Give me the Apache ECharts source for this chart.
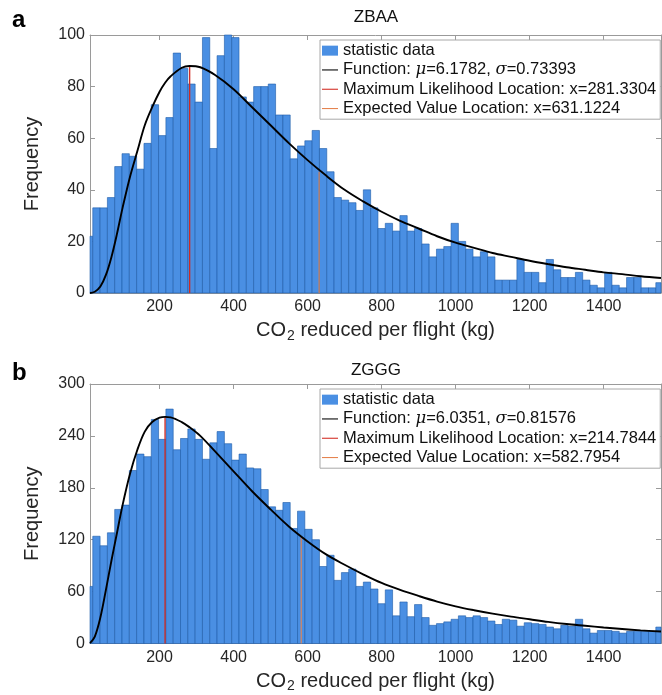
<!DOCTYPE html>
<html>
<head>
<meta charset="utf-8">
<title>CO2 reduced per flight</title>
<script src="https://cdn.jsdelivr.net/npm/echarts@6/dist/echarts.min.js"></script>
<style>
  html, body { margin: 0; padding: 0; background: #fff; }
  #myChart { width: 662px; height: 695px; }
</style>
</head>
<body>
<div id="myChart"></div>
<script>
// histogram bins (kg), shared by both airports
var binStart = -0.26;
var binWidth = 19.76;
var xTicks = [200, 400, 600, 800, 1000, 1200, 1400];

var countsZBAA = [
  22, 33, 33, 37, 49, 54, 53, 48, 58, 73,
  61, 68, 93, 87, 81, 74, 99, 56, 92, 100,
  99, 76, 74, 80, 80, 81, 69, 69, 52, 57,
  59, 63, 56, 47, 37, 36, 35, 32, 40, 33,
  25, 27, 24, 30, 24, 25, 19, 14, 17, 18,
  27, 20, 17, 14, 16, 14, 5, 5, 5, 13,
  8, 8, 4, 13, 9, 6, 6, 8, 5, 3,
  2, 8, 3, 2, 6, 6, 2, 2, 4
];
var countsZGGG = [
  66, 124, 113, 128, 155, 160, 200, 219, 216, 259,
  236, 271, 224, 237, 248, 236, 213, 232, 245, 231,
  212, 219, 203, 202, 178, 158, 154, 163, 133, 153,
  132, 120, 89, 102, 73, 82, 86, 66, 71, 63,
  46, 62, 32, 48, 31, 45, 30, 21, 23, 25,
  28, 32, 30, 32, 30, 26, 22, 28, 27, 20,
  24, 23, 22, 19, 17, 21, 20, 28, 17, 12,
  15, 15, 14, 12, 14, 14, 14, 14, 19
];

// fitted lognormal curves
var curveX = [12, 25, 40, 55, 70, 85, 100, 120, 140, 160, 180, 200, 215, 230, 260, 281, 310, 350,
  400, 450, 500, 550, 600, 650, 700, 750, 800, 850, 900, 950, 1000, 1050, 1100, 1150, 1200,
  1250, 1300, 1350, 1400, 1450, 1500, 1555];
var curveZBAA = [0, 0.5, 2.5, 7, 14, 23, 33, 45, 55, 65, 72, 78, 81.5, 84, 87.3, 88, 87.5, 84.5,
  79, 72, 65, 58, 51.5, 45.5, 40, 35.5, 31.5, 28, 25, 22, 19.5, 17.5, 15.5, 14, 12.5,
  11.2, 10, 9, 8, 7.3, 6.5, 5.8];
var curveZGGG = [0.5, 8, 30, 62, 96, 128, 160, 196, 224, 245, 256, 261, 262, 261.5, 256, 250, 240, 222,
  199, 176, 155, 135, 118, 103, 91, 80, 70, 62, 55, 48.5, 43, 38.5, 34.5, 31, 28,
  25, 22.5, 20.5, 18.5, 16.8, 15.2, 13.8];

// maximum likelihood / expected value markers, with the curve height they reach
var mlZBAA = 281.3304, evZBAA = 631.1224;
var mlZGGG = 214.7844, evZGGG = 582.7954;
var mlTopZBAA = 88, evTopZBAA = 47;
var mlTopZGGG = 262, evTopZGGG = 124;

var FONT = "'Liberation Sans', Arial, Helvetica, sans-serif";
var axisGray = "#9a9a9a";
var barColor = "#4a8fe3";
var edgeColor = "#1d5aa8";
var mlColor = "#d22b22";
var evColor = "#e58450";
var lineIcon = "path://M0 0H24V1.6H0Z";

function binData(counts) {
  return counts.map(function (c, i) {
    return [binStart + i * binWidth, binStart + (i + 1) * binWidth, c];
  });
}

function pairs(xs, ys) {
  return xs.map(function (x, i) { return [x, ys[i]]; });
}

function renderBin(params, api) {
  var p0 = api.coord([api.value(0), api.value(2)]);
  var p1 = api.coord([api.value(1), 0]);
  var rect = echarts.graphic.clipRectByRect(
    { x: p0[0], y: p0[1], width: p1[0] - p0[0], height: p1[1] - p0[1] },
    { x: params.coordSys.x, y: params.coordSys.y, width: params.coordSys.width, height: params.coordSys.height }
  );
  if (!rect) return;
  return {
    type: "rect",
    shape: rect,
    style: { fill: barColor, stroke: edgeColor, lineWidth: 0.6 }
  };
}

function bottomX(gi) {
  return {
    type: "value", gridIndex: gi, min: 12, max: 1555, position: "bottom",
    name: "{n|CO}{s|2}{n| reduced per flight (kg)}",
    nameLocation: "middle", nameGap: 20,
    nameTextStyle: {
      rich: {
        n: { fontSize: 20, fontFamily: FONT, color: "#262626", lineHeight: 24 },
        s: { fontSize: 14, fontFamily: FONT, color: "#262626", lineHeight: 24, verticalAlign: "bottom", padding: [13, 0, 0, 1] }
      }
    },
    axisLine: { show: true, onZero: false, lineStyle: { color: axisGray, width: 1 } },
    axisTick: { show: true, inside: true, length: 5, customValues: xTicks, lineStyle: { color: axisGray } },
    axisLabel: { customValues: xTicks, color: "#262626", fontSize: 16, fontFamily: FONT, margin: 6,
      formatter: function (v) { return String(v); } },
    splitLine: { show: false }
  };
}

function topX(gi) {
  return {
    type: "value", gridIndex: gi, min: 12, max: 1555, position: "top",
    axisLine: { show: true, onZero: false, lineStyle: { color: axisGray, width: 1 } },
    axisTick: { show: true, inside: true, length: 5, customValues: xTicks, lineStyle: { color: axisGray } },
    axisLabel: { show: false },
    splitLine: { show: false }
  };
}

function leftY(gi, max, step) {
  return {
    type: "value", gridIndex: gi, min: 0, max: max, interval: step, position: "left",
    name: "Frequency", nameLocation: "middle", nameGap: 48,
    nameTextStyle: { fontSize: 20, fontFamily: FONT, color: "#262626" },
    axisLine: { show: true, onZero: false, lineStyle: { color: axisGray, width: 1 } },
    axisTick: { show: true, inside: true, length: 5, lineStyle: { color: axisGray } },
    axisLabel: { color: "#262626", fontSize: 16, fontFamily: FONT, margin: 5 },
    splitLine: { show: false }
  };
}

function rightY(gi, max, step) {
  return {
    type: "value", gridIndex: gi, min: 0, max: max, interval: step, position: "right",
    axisLine: { show: true, onZero: false, lineStyle: { color: axisGray, width: 1 } },
    axisTick: { show: true, inside: true, length: 5, lineStyle: { color: axisGray } },
    axisLabel: { show: false },
    splitLine: { show: false }
  };
}

function makeLegend(top, fnName, mlName, evName) {
  return {
    orient: "vertical", left: 320, top: top,
    padding: [1, 4, 1, 2], itemGap: 0, itemWidth: 16, itemHeight: 10,
    backgroundColor: "#fff", borderColor: "#a8a8a8", borderWidth: 1,
    selectedMode: false,
    textStyle: {
      fontSize: 16.5, fontFamily: FONT, color: "#111", lineHeight: 19.3,
      rich: { i: { fontSize: 16.5, fontFamily: "'DejaVu Serif', serif", fontStyle: "italic", color: "#111", lineHeight: 19.3 } }
    },
    formatter: function (name) { return name.replace(/([μσ])/g, "{i|$1}"); },
    data: [
      { name: "statistic data", icon: "rect" },
      { name: fnName, icon: lineIcon },
      { name: mlName, icon: lineIcon },
      { name: evName, icon: lineIcon }
    ]
  };
}

var fnA = "Function: μ=6.1782, σ=0.73393";
var mlA = "Maximum Likelihood Location: x=281.3304";
var evA = "Expected Value Location: x=631.1224";
var fnB = "Function: μ=6.0351, σ=0.81576";
var mlB = "Maximum Likelihood Location: x=214.7844";
var evB = "Expected Value Location: x=582.7954";

function panelSeries(k, counts, curve, ml, mlTop, ev, evTop, fnName, mlName, evName) {
  return [
    { name: "statistic data", type: "custom", xAxisIndex: 2 * k, yAxisIndex: 2 * k,
      renderItem: renderBin, encode: { x: [0, 1], y: 2 }, itemStyle: { color: barColor },
      data: binData(counts), z: 1 },
    { name: mlName, type: "line", xAxisIndex: 2 * k, yAxisIndex: 2 * k, symbol: "none",
      lineStyle: { color: mlColor, width: 1.3 }, itemStyle: { color: mlColor },
      data: [[ml, 0], [ml, mlTop]], z: 2 },
    { name: evName, type: "line", xAxisIndex: 2 * k, yAxisIndex: 2 * k, symbol: "none",
      lineStyle: { color: evColor, width: 1.1 }, itemStyle: { color: evColor },
      data: [[ev, 0], [ev, evTop]], z: 2 },
    { name: fnName, type: "line", xAxisIndex: 2 * k, yAxisIndex: 2 * k, symbol: "none", smooth: 0.35,
      lineStyle: { color: "#000", width: 1.9 }, itemStyle: { color: "#000" },
      data: pairs(curveX, curve), z: 3 }
  ];
}

var myChart = echarts.init(document.getElementById("myChart"), null, { renderer: "canvas" });
var option = {
  animation: false,
  backgroundColor: "#fff",
  title: [
    { text: "ZBAA", left: 371, top: 4, textAlign: "center", textStyle: { fontSize: 17, fontWeight: "normal", fontFamily: FONT, color: "#111" } },
    { text: "ZGGG", left: 371, top: 357, textAlign: "center", textStyle: { fontSize: 17, fontWeight: "normal", fontFamily: FONT, color: "#111" } },
    { text: "a", left: 7, top: 3, textStyle: { fontSize: 24, fontWeight: "bold", fontFamily: FONT, color: "#000" } },
    { text: "b", left: 7, top: 356, textStyle: { fontSize: 24, fontWeight: "bold", fontFamily: FONT, color: "#000" } }
  ],
  legend: [makeLegend(40, fnA, mlA, evA), makeLegend(389, fnB, mlB, evB)],
  grid: [
    { left: 90, right: 1, top: 35, height: 258 },
    { left: 90, right: 1, top: 384, height: 259.5 }
  ],
  xAxis: [bottomX(0), topX(0), bottomX(1), topX(1)],
  yAxis: [leftY(0, 100, 20), rightY(0, 100, 20), leftY(1, 300, 60), rightY(1, 300, 60)],
  series: []
};
// panel k uses xAxis/yAxis 2k; the odd ones only mirror the ticks
option.series = panelSeries(0, countsZBAA, curveZBAA, mlZBAA, mlTopZBAA, evZBAA, evTopZBAA, fnA, mlA, evA)
  .concat(panelSeries(1, countsZGGG, curveZGGG, mlZGGG, mlTopZGGG, evZGGG, evTopZGGG, fnB, mlB, evB));
myChart.setOption(option);
</script>
</body>
</html>
